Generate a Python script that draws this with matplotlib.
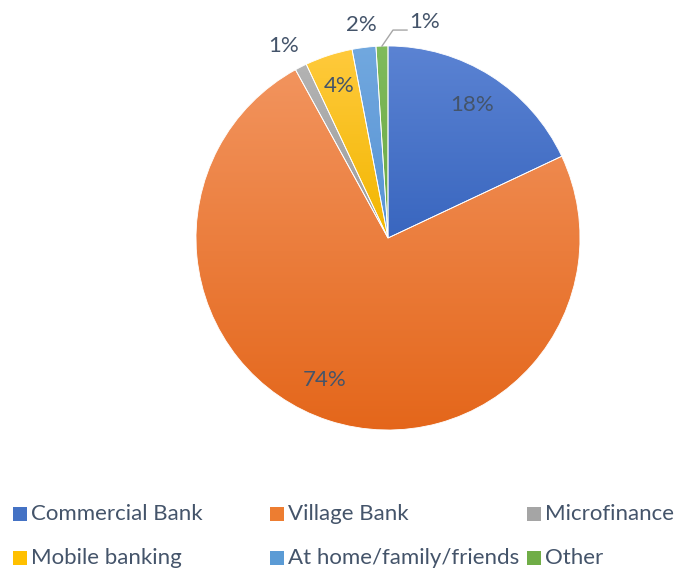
import numpy as np
import matplotlib.pyplot as plt
from matplotlib.colors import LinearSegmentedColormap
from matplotlib.patches import Rectangle

plt.rcParams["font.family"] = ["Lato", "DejaVu Sans"]

labels = ["Commercial Bank", "Village Bank", "Microfinance",
          "Mobile banking", "At home/family/friends", "Other"]
shares = [18, 74, 1, 4, 2, 1]
pct_text = ["18%", "74%", "1%", "4%", "2%", "1%"]

# light (top) -> dark (bottom) for each slice
tops = ["#5B83D3", "#F2945E", "#B3B3B3", "#FFCA3C", "#71A8DF", "#80BB5C"]
bottoms = ["#3966BF", "#E4661A", "#9C9C9C", "#F2B600", "#5893D4", "#6AA843"]
legend_colors = ["#4472C4", "#ED7D31", "#A5A5A5", "#FFC000", "#5B9BD5", "#70AD47"]

TXT = "#44546A"
FS = 16

W, H = 676, 568
fig = plt.figure(figsize=(W / 100, H / 100), dpi=100)
cx, cy, R = 388, H - 238, 192
ax = fig.add_axes([(cx - R) / W, (cy - R) / H, 2 * R / W, 2 * R / H])
ax.axis("off")

wedges, _ = ax.pie(shares, startangle=90, counterclock=False, radius=1.0,
                   colors=legend_colors)

grad = np.linspace(1, 0, 256).reshape(-1, 1)
for w, c0, c1 in zip(wedges, tops, bottoms):
    verts = w.get_path().vertices
    y0, y1 = verts[:, 1].min(), verts[:, 1].max()
    x0, x1 = verts[:, 0].min(), verts[:, 0].max()
    cmap = LinearSegmentedColormap.from_list("g", [c1, c0])
    im = ax.imshow(grad, cmap=cmap, extent=[x0, x1, y0, y1],
                   aspect="auto", origin="upper", zorder=1,
                   interpolation="bilinear")
    im.set_clip_path(w)
    w.set_facecolor("none")
    w.set_edgecolor("white")
    w.set_linewidth(0.6)
    w.set_zorder(2)
ax.set_xlim(-1, 1)
ax.set_ylim(-1, 1)

# label distance from centre and angle nudge (degrees), per slice
dist = [0.82, 0.81, 1.14, 0.83, 1.12, None]
nudge = [0, 6, -1.5, 0, 0, 0]
total = sum(shares)
cum = 0
for i, s in enumerate(shares):
    mid = (cum + s / 2) / total * 360 + nudge[i]
    cum += s
    if dist[i] is None:
        continue
    a = np.deg2rad(90 - mid)
    ax.text(dist[i] * np.cos(a), dist[i] * np.sin(a), pct_text[i],
            ha="center", va="center", fontsize=FS, color=TXT, clip_on=False)

# "Other" label sits off to the side with a leader line
mid = (total - shares[-1] / 2) / total * 360
a = np.deg2rad(90 - mid)
ex, ey = np.cos(a), np.sin(a)
ax.plot([ex, 0.026, 0.099], [ey, 1.083, 1.083], color="#A6A6A6",
        lw=1.0, clip_on=False, zorder=3)
ax.text(0.11, 1.125, pct_text[-1], ha="left", va="center", fontsize=FS,
        color=TXT, clip_on=False)

# legend, three equal-width columns
col_x = [13, 270, 527]
row_y = [514, 558]
sq = 14
for i, (lab, col) in enumerate(zip(labels, legend_colors)):
    x = col_x[i % 3]
    y = row_y[i // 3]
    fig.patches.append(Rectangle((x / W, (H - y - sq / 2) / H), sq / W, sq / H,
                                 transform=fig.transFigure, facecolor=col,
                                 edgecolor="none"))
    fig.text((x + sq + 4) / W, (H - y) / H, lab, ha="left", va="center",
             fontsize=FS, color=TXT)

fig.savefig("out.png", dpi=100, facecolor="white")
